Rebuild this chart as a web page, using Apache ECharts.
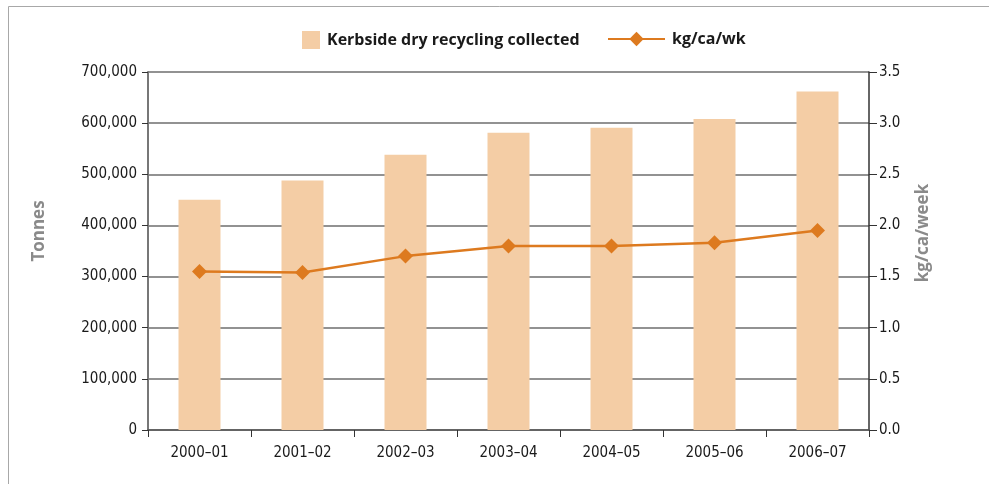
<!DOCTYPE html>
<html>
<head>
    <meta charset="utf-8">
    <script src="https://cdn.jsdelivr.net/npm/echarts@6/dist/echarts.min.js"></script>
    <style>
        html, body { margin: 0; padding: 0; background: #fff; }
    </style>
</head>
<body>
<div id="main" style="width: 989px; height: 484px;"></div>

<script type="text/javascript">
    var categories = ['2000\u201301', '2001\u201302', '2002\u201303', '2003\u201304', '2004\u201305', '2005\u201306', '2006\u201307'];
    var tonnes = [450000, 488000, 538000, 581000, 591000, 608000, 662000];
    var kgPerCapWeek = [1.55, 1.54, 1.70, 1.80, 1.80, 1.83, 1.95];

    var barName = 'Kerbside dry recycling collected';
    var lineName = 'kg/ca/wk';

    var tickFont = '"DejaVu Sans Condensed", sans-serif';
    var boldFont = '"Open Sans", "Noto Sans", sans-serif';

    var legendText = {
        fontFamily: boldFont,
        fontWeight: 'bold',
        fontSize: 16,
        color: '#1a1a1a',
        padding: [0, 0, 0, 2]
    };

    var chart = echarts.init(document.getElementById('main'));

    var option = {
        animation: false,
        backgroundColor: '#fff',
        graphic: [{
            type: 'rect',
            shape: {x: 8.5, y: 6.5, width: 1000, height: 500},
            style: {fill: 'none', stroke: '#a8a8a8', lineWidth: 1},
            silent: true
        }],
        // two legends so the square and the line marker can have their own sizes
        legend: [{
            top: 26,
            left: 297,
            itemWidth: 18,
            itemHeight: 18,
            textStyle: legendText,
            data: [{name: barName, icon: 'rect'}]
        }, {
            top: 26,
            left: 602,
            itemWidth: 57,
            itemHeight: 18,
            textStyle: legendText,
            data: [{name: lineName}]
        }],
        grid: {
            left: 148,
            right: 120,
            top: 72,
            bottom: 54,
            containLabel: false
        },
        xAxis: {
            type: 'category',
            data: categories,
            boundaryGap: true,
            axisLine: {lineStyle: {color: '#555', width: 1.5}},
            axisTick: {show: true, length: 7, lineStyle: {color: '#333'}},
            axisLabel: {
                fontFamily: tickFont,
                fontSize: 15,
                color: '#1a1a1a',
                margin: 16
            },
            splitLine: {show: false}
        },
        yAxis: [{
            type: 'value',
            min: 0,
            max: 700000,
            interval: 100000,
            name: 'Tonnes',
            nameLocation: 'middle',
            nameGap: 100,
            nameRotate: 90,
            nameTextStyle: {
                fontFamily: boldFont,
                fontWeight: 'bold',
                fontSize: 17,
                color: '#8a8a8a',
                padding: [0, 0, 0, 40]
            },
            axisLine: {show: true, lineStyle: {color: '#777', width: 2}},
            axisTick: {show: true, length: 6, lineStyle: {color: '#333'}},
            axisLabel: {
                fontFamily: tickFont,
                fontSize: 15,
                color: '#1a1a1a',
                margin: 11,
                formatter: function (v) {
                    return v.toString().replace(/\B(?=(\d{3})+(?!\d))/g, ',');
                }
            },
            splitLine: {show: true, lineStyle: {color: '#6e6e6e', width: 1.5}}
        }, {
            type: 'value',
            min: 0,
            max: 3.5,
            interval: 0.5,
            position: 'right',
            name: 'kg/ca/week',
            nameLocation: 'middle',
            nameGap: 46,
            nameRotate: 90,
            nameTextStyle: {
                fontFamily: boldFont,
                fontWeight: 'bold',
                fontSize: 17,
                color: '#8a8a8a',
                padding: [0, 0, 0, 36]
            },
            axisLine: {show: true, lineStyle: {color: '#333', width: 1.5}},
            axisTick: {show: true, length: 8, lineStyle: {color: '#333'}},
            axisLabel: {
                fontFamily: tickFont,
                fontSize: 15,
                color: '#1a1a1a',
                margin: 10,
                formatter: function (v) {
                    return v.toFixed(1);
                }
            },
            splitLine: {show: false}
        }],
        series: [{
            name: barName,
            type: 'bar',
            yAxisIndex: 0,
            barWidth: 42,
            itemStyle: {color: '#f4cda5'},
            data: tonnes
        }, {
            name: lineName,
            type: 'line',
            yAxisIndex: 1,
            symbol: 'diamond',
            symbolSize: 15,
            lineStyle: {color: '#dd7a1f', width: 2.5},
            itemStyle: {color: '#dd7a1f'},
            z: 5,
            data: kgPerCapWeek
        }]
    };

    chart.setOption(option);
</script>
</body>
</html>
